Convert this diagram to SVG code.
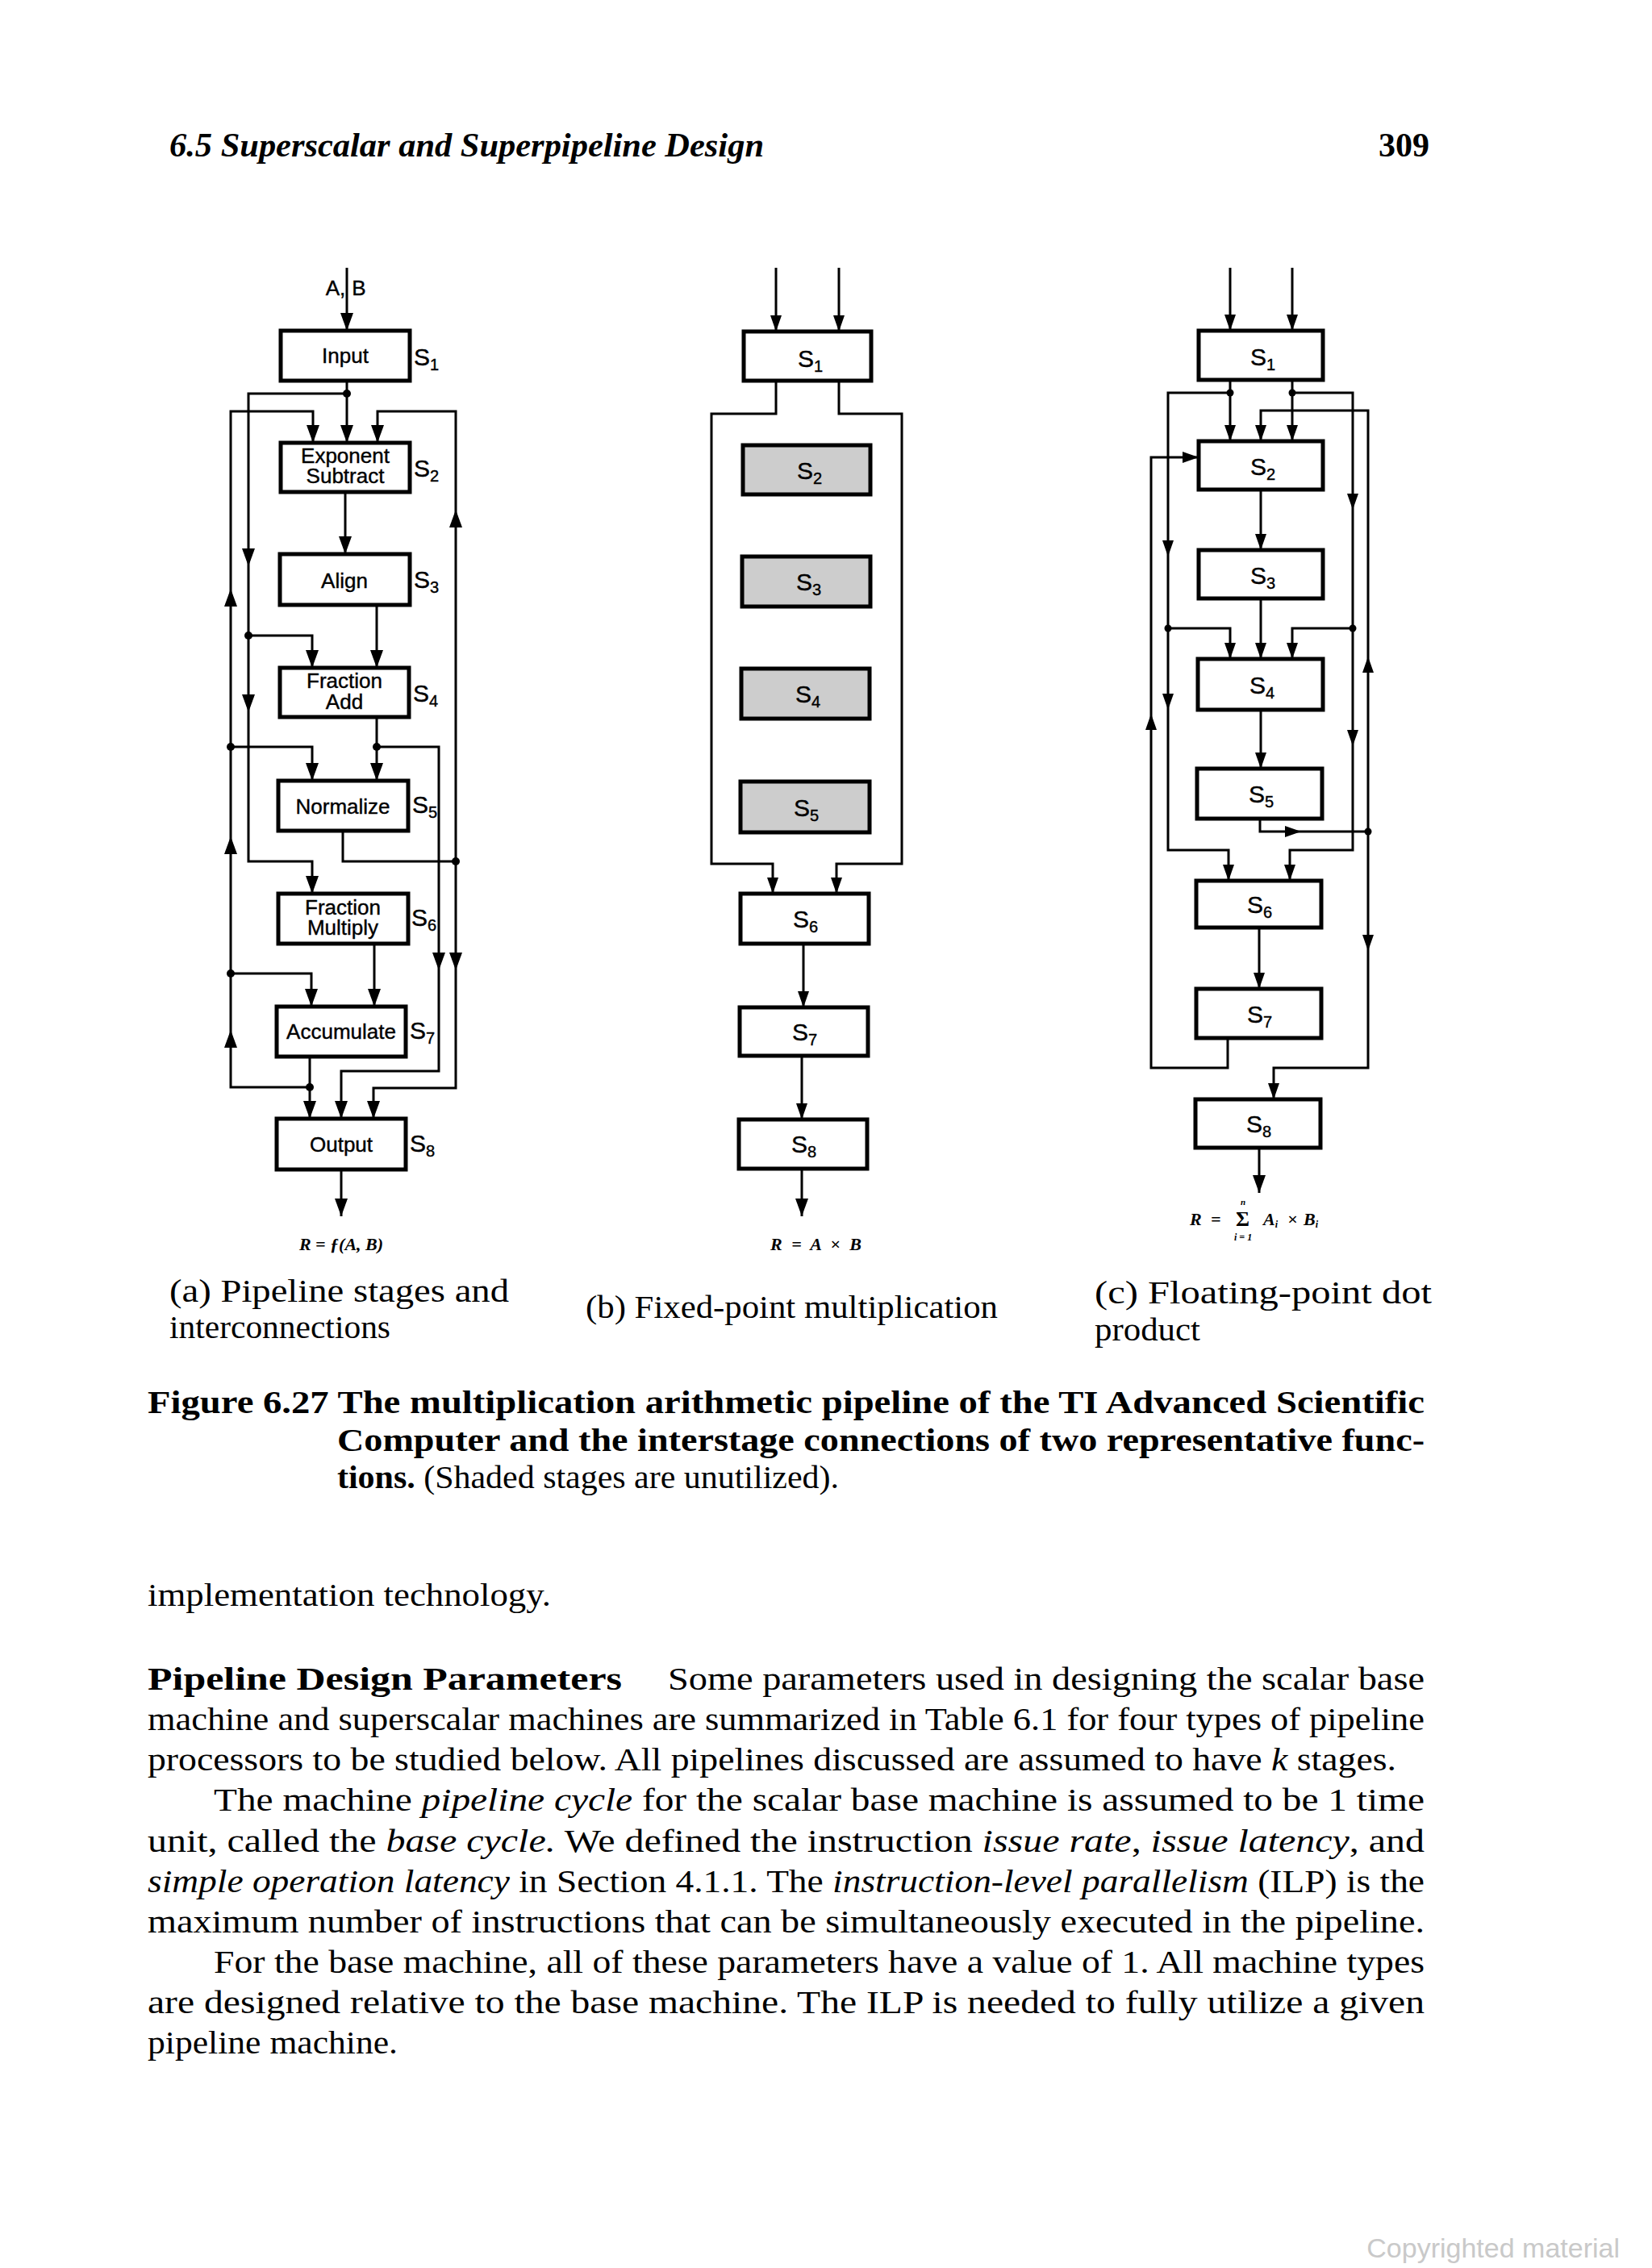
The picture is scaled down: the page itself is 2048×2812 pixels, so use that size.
<svg xmlns="http://www.w3.org/2000/svg" xmlns:xlink="http://www.w3.org/1999/xlink" width="2048" height="2812" viewBox="0 0 2048 2812">
<style>
.bx{fill:#fff;stroke:#000;stroke-width:5}
.sh{fill:#cdcdcd;stroke:#000;stroke-width:5}
.ln{fill:none;stroke:#000;stroke-width:3;stroke-linejoin:miter}
.lbl{font-family:"Liberation Sans",Arial,sans-serif;font-size:26px;text-anchor:middle;fill:#000;stroke:#000;stroke-width:0.4}
.s{font-family:"Liberation Sans",Arial,sans-serif;font-size:30px;fill:#000;stroke:#000;stroke-width:0.4}
.sub{font-size:20px}
.fx{font-family:"Liberation Serif","Times New Roman",serif;font-style:italic;font-weight:bold;font-size:22px;fill:#000}
.body{font-family:"Liberation Serif","Times New Roman",serif;font-size:40px;fill:#000}
.cap{font-family:"Liberation Serif","Times New Roman",serif;font-size:40px;fill:#000}
.b{font-weight:bold}
.i{font-style:italic}
.hd{font-family:"Liberation Serif","Times New Roman",serif;font-size:42px;font-weight:bold;fill:#000}
.wm{font-family:"Liberation Sans",Arial,sans-serif;font-size:34px;fill:#c9c9c9}
</style>
<defs>
<path id="ah" d="M0,0 L-8,-22 L8,-22 Z" fill="#000"/>
<path id="ahs" d="M0,0 L-7,-20 L7,-20 Z" fill="#000"/>
</defs>

<!-- Header -->
<text class="hd" x="210" y="194" font-style="italic" textLength="737" lengthAdjust="spacingAndGlyphs">6.5 Superscalar and Superpipeline Design</text>
<text class="hd" x="1772" y="194" text-anchor="end">309</text>

<!-- ================= Diagram (a) ================= -->
<g id="a-input"><rect class="bx" x="348" y="410" width="160" height="62"/><text class="lbl" x="428" y="450">Input</text><text class="s" x="513" y="453">S<tspan class="sub" dy="6">1</tspan></text></g>
<g id="a-expsub"><rect class="bx" x="348" y="549" width="160" height="61"/><text class="lbl" x="428" y="574">Exponent</text><text class="lbl" x="428" y="599">Subtract</text><text class="s" x="513" y="591">S<tspan class="sub" dy="6">2</tspan></text></g>
<g id="a-align"><rect class="bx" x="347" y="687" width="161" height="63"/><text class="lbl" x="427" y="729">Align</text><text class="s" x="513" y="729">S<tspan class="sub" dy="6">3</tspan></text></g>
<g id="a-fracadd"><rect class="bx" x="347" y="828" width="160" height="61"/><text class="lbl" x="427" y="853">Fraction</text><text class="lbl" x="427" y="879">Add</text><text class="s" x="512" y="870">S<tspan class="sub" dy="6">4</tspan></text></g>
<g id="a-normalize"><rect class="bx" x="345" y="968" width="161" height="62"/><text class="lbl" x="425" y="1009">Normalize</text><text class="s" x="511" y="1008">S<tspan class="sub" dy="6">5</tspan></text></g>
<g id="a-fracmult"><rect class="bx" x="345" y="1108" width="161" height="62"/><text class="lbl" x="425" y="1134">Fraction</text><text class="lbl" x="425" y="1159">Multiply</text><text class="s" x="510" y="1148">S<tspan class="sub" dy="6">6</tspan></text></g>
<g id="a-accumulate"><rect class="bx" x="343" y="1248" width="160" height="62"/><text class="lbl" x="423" y="1288">Accumulate</text><text class="s" x="508" y="1288">S<tspan class="sub" dy="6">7</tspan></text></g>
<g id="a-output"><rect class="bx" x="343" y="1387" width="160" height="63"/><text class="lbl" x="423" y="1428">Output</text><text class="s" x="508" y="1428">S<tspan class="sub" dy="6">8</tspan></text></g>
<g id="a-labels">
<text class="lbl" x="416" y="366" text-anchor="end" font-size="28">A,</text>
<text class="lbl" x="445" y="366" text-anchor="start" font-size="28">B</text>
<text class="fx" x="423" y="1550" text-anchor="middle">R = ƒ(A, B)</text>
</g>

<g id="a-connectors">
<path class="ln" d="M430,332 V410"/>
<use xlink:href="#ah" x="430" y="410"/>
<path class="ln" d="M430,472 V549"/>
<use xlink:href="#ah" x="430" y="549"/>
<circle cx="430" cy="488" r="5"/>
<path class="ln" d="M430,488 H308 V1068 H387 V1108"/>
<use xlink:href="#ah" x="387" y="1108"/>
<use xlink:href="#ah" x="308" y="702"/>
<use xlink:href="#ah" x="308" y="883"/>
<circle cx="308" cy="788" r="5"/>
<path class="ln" d="M308,788 H387 V828"/>
<use xlink:href="#ah" x="387" y="828"/>
<path class="ln" d="M384,1310 V1387"/>
<use xlink:href="#ah" x="384" y="1387"/>
<circle cx="384" cy="1348" r="5"/>
<path class="ln" d="M384,1348 H286 V510 H388 V549"/>
<use xlink:href="#ah" x="388" y="549"/>
<use xlink:href="#ah" transform="translate(286,730) rotate(180)"/>
<use xlink:href="#ah" transform="translate(286,1037) rotate(180)"/>
<use xlink:href="#ah" transform="translate(286,1277) rotate(180)"/>
<circle cx="286" cy="926" r="5"/>
<path class="ln" d="M286,926 H387 V968"/>
<use xlink:href="#ah" x="387" y="968"/>
<circle cx="286" cy="1207" r="5"/>
<path class="ln" d="M286,1207 H386 V1248"/>
<use xlink:href="#ah" x="386" y="1248"/>
<path class="ln" d="M428,610 V687"/>
<use xlink:href="#ah" x="428" y="687"/>
<path class="ln" d="M467,750 V828"/>
<use xlink:href="#ah" x="467" y="828"/>
<path class="ln" d="M467,889 V968"/>
<use xlink:href="#ah" x="467" y="968"/>
<circle cx="467" cy="926" r="5"/>
<path class="ln" d="M467,926 H544 V1328 H423 V1387"/>
<use xlink:href="#ah" x="423" y="1387"/>
<use xlink:href="#ah" x="544" y="1203"/>
<path class="ln" d="M425,1030 V1068 H565"/>
<circle cx="565" cy="1068" r="5"/>
<path class="ln" d="M565,1068 V510 H468 V549"/>
<use xlink:href="#ah" x="468" y="549"/>
<use xlink:href="#ah" transform="translate(565,632) rotate(180)"/>
<path class="ln" d="M565,1068 V1349 H463 V1387"/>
<use xlink:href="#ah" x="463" y="1387"/>
<use xlink:href="#ah" x="565" y="1203"/>
<path class="ln" d="M464,1170 V1248"/>
<use xlink:href="#ah" x="464" y="1248"/>
<path class="ln" d="M423,1450 V1508"/>
<use xlink:href="#ah" x="423" y="1508"/>
</g>

<!-- ================= Diagram (b) ================= -->
<g id="b-s1"><rect class="bx" x="922" y="411" width="158" height="61"/><text class="s" x="989" y="455">S<tspan class="sub" dy="6">1</tspan></text></g>
<g id="b-s2"><rect class="sh" x="921" y="552" width="158" height="61"/><text class="s" x="988" y="594">S<tspan class="sub" dy="6">2</tspan></text></g>
<g id="b-s3"><rect class="sh" x="920" y="690" width="159" height="62"/><text class="s" x="987" y="732">S<tspan class="sub" dy="6">3</tspan></text></g>
<g id="b-s4"><rect class="sh" x="919" y="829" width="159" height="62"/><text class="s" x="986" y="871">S<tspan class="sub" dy="6">4</tspan></text></g>
<g id="b-s5"><rect class="sh" x="918" y="969" width="160" height="63"/><text class="s" x="984" y="1012">S<tspan class="sub" dy="6">5</tspan></text></g>
<g id="b-s6"><rect class="bx" x="918" y="1108" width="159" height="62"/><text class="s" x="983" y="1150">S<tspan class="sub" dy="6">6</tspan></text></g>
<g id="b-s7"><rect class="bx" x="917" y="1249" width="159" height="60"/><text class="s" x="982" y="1290">S<tspan class="sub" dy="6">7</tspan></text></g>
<g id="b-s8"><rect class="bx" x="916" y="1388" width="159" height="61"/><text class="s" x="981" y="1429">S<tspan class="sub" dy="6">8</tspan></text></g>
<text class="fx" x="955" y="1550" font-size="19" textLength="113" lengthAdjust="spacing">R = A × B</text>

<g id="b-connectors">
<path class="ln" d="M962,332 V411"/>
<use xlink:href="#ahs" x="962" y="411"/>
<path class="ln" d="M1040,332 V411"/>
<use xlink:href="#ahs" x="1040" y="411"/>
<path class="ln" d="M962,472 V513 H882 V1071 H958 V1108"/>
<use xlink:href="#ahs" x="958" y="1108"/>
<path class="ln" d="M1040,472 V513 H1118 V1071 H1037 V1108"/>
<use xlink:href="#ahs" x="1037" y="1108"/>
<path class="ln" d="M996,1170 V1249"/>
<use xlink:href="#ahs" x="996" y="1249"/>
<path class="ln" d="M994,1309 V1388"/>
<use xlink:href="#ahs" x="994" y="1388"/>
<path class="ln" d="M994,1449 V1508"/>
<use xlink:href="#ah" x="994" y="1508"/>
</g>

<!-- ================= Diagram (c) ================= -->
<g id="c-s1"><rect class="bx" x="1486" y="410" width="154" height="61"/><text class="s" x="1550" y="453">S<tspan class="sub" dy="6">1</tspan></text></g>
<g id="c-s2"><rect class="bx" x="1486" y="547" width="154" height="60"/><text class="s" x="1550" y="589">S<tspan class="sub" dy="6">2</tspan></text></g>
<g id="c-s3"><rect class="bx" x="1486" y="682" width="154" height="60"/><text class="s" x="1550" y="724">S<tspan class="sub" dy="6">3</tspan></text></g>
<g id="c-s4"><rect class="bx" x="1485" y="817" width="155" height="63"/><text class="s" x="1549" y="860">S<tspan class="sub" dy="6">4</tspan></text></g>
<g id="c-s5"><rect class="bx" x="1484" y="953" width="155" height="62"/><text class="s" x="1548" y="995">S<tspan class="sub" dy="6">5</tspan></text></g>
<g id="c-s6"><rect class="bx" x="1483" y="1092" width="155" height="58"/><text class="s" x="1546" y="1132">S<tspan class="sub" dy="6">6</tspan></text></g>
<g id="c-s7"><rect class="bx" x="1483" y="1226" width="155" height="61"/><text class="s" x="1546" y="1268">S<tspan class="sub" dy="6">7</tspan></text></g>
<g id="c-s8"><rect class="bx" x="1482" y="1363" width="155" height="60"/><text class="s" x="1545" y="1404">S<tspan class="sub" dy="6">8</tspan></text></g>
<g id="c-formula">
<text class="fx" font-size="19"><tspan x="1475" y="1519">R</tspan><tspan x="1501" y="1519">=</tspan><tspan x="1532" y="1520" font-size="26" font-style="normal">Σ</tspan><tspan x="1538" y="1494" font-size="11">n</tspan><tspan x="1530" y="1538" font-size="12">i = 1</tspan><tspan x="1566" y="1519">A</tspan><tspan font-size="12" dy="3">i</tspan><tspan x="1596" y="1519">×</tspan><tspan x="1616" y="1519">B</tspan><tspan font-size="12" dy="3">i</tspan></text>
</g>

<g id="c-connectors">
<path class="ln" d="M1525,332 V410"/>
<use xlink:href="#ahs" x="1525" y="410"/>
<path class="ln" d="M1602,332 V410"/>
<use xlink:href="#ahs" x="1602" y="410"/>
<path class="ln" d="M1525,471 V547"/>
<use xlink:href="#ahs" x="1525" y="547"/>
<path class="ln" d="M1602,471 V547"/>
<use xlink:href="#ahs" x="1602" y="547"/>
<circle cx="1525" cy="487" r="4.5"/>
<circle cx="1602" cy="487" r="4.5"/>
<path class="ln" d="M1525,487 H1448 V1054 H1523 V1092"/>
<use xlink:href="#ahs" x="1523" y="1092"/>
<use xlink:href="#ahs" x="1448" y="690"/>
<use xlink:href="#ahs" x="1448" y="880"/>
<circle cx="1448" cy="779" r="4.5"/>
<path class="ln" d="M1448,779 H1525 V817"/>
<use xlink:href="#ahs" x="1525" y="817"/>
<path class="ln" d="M1602,487 H1677 V1054 H1599 V1092"/>
<use xlink:href="#ahs" x="1599" y="1092"/>
<use xlink:href="#ahs" x="1677" y="632"/>
<use xlink:href="#ahs" x="1677" y="925"/>
<circle cx="1677" cy="779" r="4.5"/>
<path class="ln" d="M1677,779 H1602 V817"/>
<use xlink:href="#ahs" x="1602" y="817"/>
<path class="ln" d="M1562,1015 V1031 H1696"/>
<use xlink:href="#ahs" transform="translate(1613,1031) rotate(-90)"/>
<circle cx="1696" cy="1031" r="4.5"/>
<path class="ln" d="M1696,1031 V509 H1563 V547"/>
<use xlink:href="#ahs" x="1563" y="547"/>
<use xlink:href="#ahs" transform="translate(1696,814) rotate(180)"/>
<path class="ln" d="M1696,1031 V1324 H1579 V1363"/>
<use xlink:href="#ahs" x="1579" y="1363"/>
<use xlink:href="#ahs" x="1696" y="1179"/>
<path class="ln" d="M1522,1287 V1324 H1427 V567 H1486"/>
<use xlink:href="#ahs" transform="translate(1486,567) rotate(-90)"/>
<use xlink:href="#ahs" transform="translate(1427,885) rotate(180)"/>
<path class="ln" d="M1563,607 V682"/>
<use xlink:href="#ahs" x="1563" y="682"/>
<path class="ln" d="M1563,742 V817"/>
<use xlink:href="#ahs" x="1563" y="817"/>
<path class="ln" d="M1563,880 V953"/>
<use xlink:href="#ahs" x="1563" y="953"/>
<path class="ln" d="M1561,1150 V1226"/>
<use xlink:href="#ahs" x="1561" y="1226"/>
<path class="ln" d="M1561,1423 V1479"/>
<use xlink:href="#ah" x="1561" y="1479"/>
</g>

<!-- Sub captions -->
<text class="cap" x="210" y="1614" textLength="421" lengthAdjust="spacingAndGlyphs">(a) Pipeline stages and</text>
<text class="cap" x="210" y="1659" textLength="274" lengthAdjust="spacingAndGlyphs">interconnections</text>
<text class="cap" x="726" y="1634" textLength="511" lengthAdjust="spacingAndGlyphs">(b) Fixed-point multiplication</text>
<text class="cap" x="1357" y="1616" textLength="418" lengthAdjust="spacingAndGlyphs">(c) Floating-point dot</text>
<text class="cap" x="1357" y="1662" textLength="131" lengthAdjust="spacingAndGlyphs">product</text>

<!-- Figure caption -->
<text class="cap b" x="183" y="1752" textLength="1583" lengthAdjust="spacingAndGlyphs">Figure 6.27 The multiplication arithmetic pipeline of the TI Advanced Scientific</text>
<text class="cap b" x="418" y="1799" textLength="1348" lengthAdjust="spacingAndGlyphs">Computer and the interstage connections of two representative func-</text>
<text class="cap" x="418" y="1845" textLength="622" lengthAdjust="spacingAndGlyphs"><tspan class="b">tions.</tspan> (Shaded stages are unutilized).</text>

<!-- Body text -->
<text class="body" x="183" y="1991" textLength="500" lengthAdjust="spacingAndGlyphs">implementation technology.</text>
<text class="body b" x="183" y="2095" textLength="588" lengthAdjust="spacingAndGlyphs">Pipeline Design Parameters</text>
<text class="body" x="828" y="2095" textLength="938" lengthAdjust="spacingAndGlyphs">Some parameters used in designing the scalar base</text>
<text class="body" x="183" y="2145" textLength="1583" lengthAdjust="spacingAndGlyphs">machine and superscalar machines are summarized in Table 6.1 for four types of pipeline</text>
<text class="body" x="183" y="2195" textLength="1548" lengthAdjust="spacingAndGlyphs">processors to be studied below. All pipelines discussed are assumed to have <tspan class="i">k</tspan> stages.</text>
<text class="body" x="265" y="2245" textLength="1501" lengthAdjust="spacingAndGlyphs">The machine <tspan class="i">pipeline cycle</tspan> for the scalar base machine is assumed to be 1 time</text>
<text class="body" x="183" y="2296" textLength="1583" lengthAdjust="spacingAndGlyphs">unit, called the <tspan class="i">base cycle.</tspan> We defined the instruction <tspan class="i">issue rate</tspan>, <tspan class="i">issue latency</tspan>, and</text>
<text class="body" x="183" y="2346" textLength="1583" lengthAdjust="spacingAndGlyphs"><tspan class="i">simple operation latency</tspan> in Section 4.1.1. The <tspan class="i">instruction-level parallelism</tspan> (ILP) is the</text>
<text class="body" x="183" y="2396" textLength="1583" lengthAdjust="spacingAndGlyphs">maximum number of instructions that can be simultaneously executed in the pipeline.</text>
<text class="body" x="265" y="2446" textLength="1501" lengthAdjust="spacingAndGlyphs">For the base machine, all of these parameters have a value of 1. All machine types</text>
<text class="body" x="183" y="2496" textLength="1583" lengthAdjust="spacingAndGlyphs">are designed relative to the base machine. The ILP is needed to fully utilize a given</text>
<text class="body" x="183" y="2546" textLength="310" lengthAdjust="spacingAndGlyphs">pipeline machine.</text>

<text class="wm" x="2008" y="2799" text-anchor="end">Copyrighted material</text>
</svg>
